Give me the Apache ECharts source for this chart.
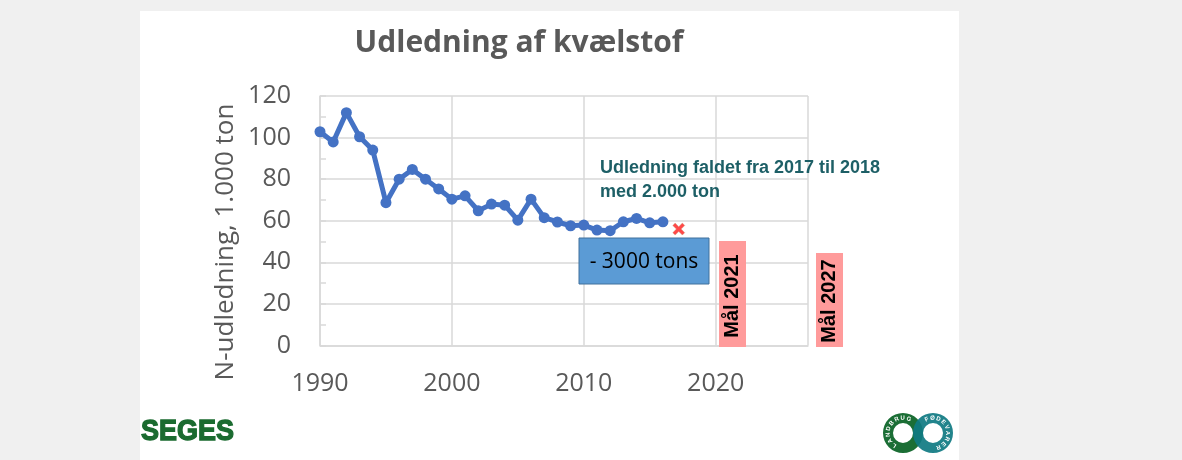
<!DOCTYPE html>
<html>
<head>
<meta charset="utf-8">
<script src="https://cdn.jsdelivr.net/npm/echarts@6/dist/echarts.min.js"></script>
<style>
  html, body { margin: 0; padding: 0; background: #f0f0f0; }
  #slide { position: absolute; left: 140px; top: 11px; width: 819px; height: 449px; background: #fff; }
  #main { position: absolute; left: 0; top: 0; width: 1182px; height: 460px; }
</style>
</head>
<body>
<div id="slide"></div>
<div id="main"></div>
<script>
const years = [1990, 1991, 1992, 1993, 1994, 1995, 1996, 1997, 1998, 1999,
  2000, 2001, 2002, 2003, 2004, 2005, 2006, 2007, 2008, 2009,
  2010, 2011, 2012, 2013, 2014, 2015, 2016];
const udledning = [102.8, 97.9, 112, 100.4, 94, 68.7, 80, 84.7, 80, 75.3,
  70.4, 72, 64.8, 68, 67.5, 60.3, 70.4, 61.5, 59.4, 57.6,
  57.9, 55.5, 55.2, 59.5, 61.1, 59, 59.5];
const point2017 = [2017.2, 56];
const xTicks = [1990, 2000, 2010, 2020];
const yTicks = [0, 20, 40, 60, 80, 100, 120];

window.onload = function () {
  const myChart = echarts.init(document.getElementById("main"));

  const grey = "#595959";
  const gridColor = "#d9d9d9";

  // small letters round the logo rings
  function ringText(text, cx, cy, r, startDeg, stepDeg) {
    const out = [];
    for (let i = 0; i < text.length; i++) {
      const a = (startDeg + i * stepDeg) * Math.PI / 180;
      out.push({
        type: "text",
        x: cx + r * Math.sin(a),
        y: cy - r * Math.cos(a),
        rotation: -a,
        z: 20,
        style: {
          text: text[i], fill: "#fff", font: "bold 6px 'Liberation Sans'",
          align: "center", verticalAlign: "middle"
        }
      });
    }
    return out;
  }

  const options = {
    animation: false,
    title: {
      text: "Udledning af kvælstof",
      left: 514,
      top: 23,
      textAlign: "center",
      textStyle: { fontFamily: "Open Sans", fontWeight: "bold", fontSize: 30, color: grey }
    },
    grid: { left: 320, right: 374, top: 96, bottom: 114.5, containLabel: false },
    xAxis: {
      type: "value",
      min: 1990,
      max: 2027,
      interval: 10,
      axisLine: { show: true, lineStyle: { color: gridColor, width: 1.5 } },
      axisTick: { show: false },
      splitLine: { show: true, lineStyle: { color: gridColor, width: 1.5 } },
      axisLabel: {
        margin: 26,
        color: grey,
        fontFamily: "Open Sans",
        fontSize: 25,
        formatter: v => (xTicks.indexOf(v) >= 0 ? String(v) : "")
      }
    },
    yAxis: {
      type: "value",
      min: 0,
      max: 120,
      interval: 20,
      axisLine: { show: true, lineStyle: { color: gridColor, width: 1.5 } },
      axisTick: { show: true, inside: true, length: 6, lineStyle: { color: gridColor, width: 1.5 } },
      minorTick: { show: true, splitNumber: 2, length: 6, lineStyle: { color: gridColor, width: 1.5 } },
      splitLine: { show: true, lineStyle: { color: gridColor, width: 1.5 } },
      axisLabel: {
        margin: 29,
        color: grey,
        fontFamily: "Open Sans",
        fontSize: 25,
        formatter: v => (yTicks.indexOf(v) >= 0 ? String(v) : "")
      }
    },
    series: [
      {
        name: "Udledning",
        type: "line",
        data: years.map((y, i) => [y, udledning[i]]),
        symbol: "circle",
        symbolSize: 11,
        itemStyle: { color: "#4472C4" },
        lineStyle: { color: "#4472C4", width: 5 },
        z: 5
      },
      {
        name: "2017",
        type: "scatter",
        data: [point2017],
        symbol: "path://M2,0 L5,3 L8,0 L10,2 L7,5 L10,8 L8,10 L5,7 L2,10 L0,8 L3,5 L0,2 Z",
        symbolSize: 12,
        itemStyle: { color: "#ff1a1a", borderColor: "#c9a27a", borderWidth: 0.5 },
        z: 6
      }
    ],
    graphic: [
      {
        type: "text", x: 226, y: 242, rotation: Math.PI / 2, z: 10,
        style: {
          text: "N-udledning, 1.000 ton", font: "26px 'Open Sans'", fill: grey,
          align: "center", verticalAlign: "middle"
        }
      },
      {
        type: "text", left: 600, top: 156, z: 10,
        style: {
          text: "Udledning faldet fra 2017 til 2018\nmed 2.000 ton",
          font: "bold 18px 'Liberation Sans'", fill: "#1d5f66", lineHeight: 24
        }
      },
      {
        type: "rect", z: 10,
        shape: { x: 579, y: 238, width: 130, height: 46 },
        style: { fill: "#5b9bd5", stroke: "#41719c", lineWidth: 1 }
      },
      {
        type: "text", x: 644, y: 262, z: 11,
        style: {
          text: "- 3000 tons", font: "21px 'Open Sans'", fill: "#000",
          align: "center", verticalAlign: "middle"
        }
      },
      {
        type: "rect", z: 10,
        shape: { x: 719, y: 241, width: 27, height: 106 },
        style: { fill: "#ff9b9b" }
      },
      {
        type: "text", x: 732.5, y: 296, rotation: Math.PI / 2, z: 11,
        style: {
          text: "Mål 2021", font: "bold 20px 'Liberation Sans'", fill: "#000",
          align: "center", verticalAlign: "middle"
        }
      },
      {
        type: "rect", z: 10,
        shape: { x: 816, y: 253, width: 27, height: 94 },
        style: { fill: "#ff9b9b" }
      },
      {
        type: "text", x: 829.5, y: 301, rotation: Math.PI / 2, z: 11,
        style: {
          text: "Mål 2027", font: "bold 20px 'Liberation Sans'", fill: "#000",
          align: "center", verticalAlign: "middle"
        }
      },
      {
        type: "text", x: 141, y: 447, scaleY: 1.12, z: 10,
        style: {
          text: "SEGES", font: "bold 27px 'Liberation Sans'", fill: "#1b6b30",
          stroke: "#1b6b30", lineWidth: 1.2, verticalAlign: "bottom"
        }
      },
      {
        type: "ring", z: 15,
        shape: { cx: 903, cy: 433, r: 20, r0: 10 },
        style: { fill: "#1b6e35" }
      },
      {
        type: "ring", z: 16,
        shape: { cx: 933, cy: 433, r: 20, r0: 10 },
        style: { fill: "#0f7a82", opacity: 0.92 }
      },
      ...ringText("LANDBRUG", 903, 433, 15, -145, 24),
      ...ringText("FØDEVARER", 933, 433, 15, -25, 23)
    ]
  };

  myChart.setOption(options);
};
</script>
</body>
</html>
